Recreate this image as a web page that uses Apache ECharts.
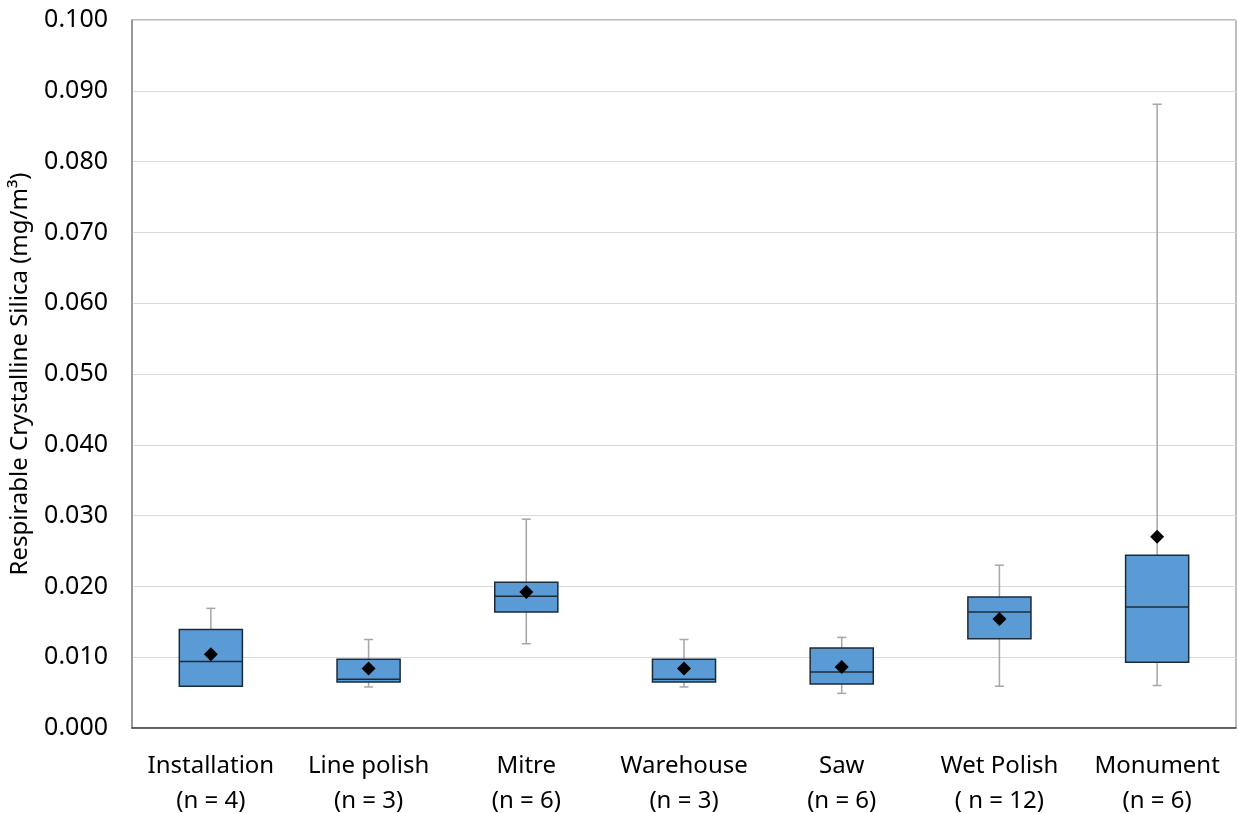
<!DOCTYPE html>
<html>
<head>
<meta charset="utf-8">
<script src="https://cdn.jsdelivr.net/npm/echarts@6/dist/echarts.min.js"></script>
<style>
html,body{margin:0;padding:0;background:#fff;}
#chart{width:1238px;height:813px;}
</style>
</head>
<body>
<div id="chart"></div>
<script>
const categories = ['Installation\n(n = 4)', 'Line polish\n(n = 3)', 'Mitre\n(n = 6)', 'Warehouse\n(n = 3)', 'Saw\n(n = 6)', 'Wet Polish\n( n = 12)', 'Monument\n(n = 6)'];
const minVals    = [0.0059, 0.0058, 0.0119, 0.0058, 0.0049, 0.0059, 0.0060];
const q1Vals     = [0.0059, 0.0065, 0.0164, 0.0065, 0.0062, 0.0126, 0.0093];
const medianVals = [0.0094, 0.0069, 0.0186, 0.0069, 0.0079, 0.0164, 0.0171];
const q3Vals     = [0.0139, 0.0097, 0.0206, 0.0097, 0.0113, 0.0185, 0.0244];
const maxVals    = [0.0169, 0.0125, 0.0295, 0.0125, 0.0128, 0.0230, 0.0881];
const meanVals   = [0.0104, 0.0084, 0.0192, 0.0084, 0.0086, 0.0154, 0.0270];
const yTicks = { min: 0, max: 0.1, interval: 0.01 };

const boxData = categories.map((c, i) => [i, minVals[i], q1Vals[i], medianVals[i], q3Vals[i], maxVals[i]]);
const meanData = categories.map((c, i) => [i, meanVals[i]]);

const chart = echarts.init(document.getElementById('chart'));
const FONT = 'Noto Sans';
const option = {
  animation: false,
  grid: { left: 132, right: 2, top: 20, bottom: 85, containLabel: false, outerBoundsMode: 'none',
          show: true, borderColor: '#7f7f7f', borderWidth: 1 },
  xAxis: {
    type: 'category',
    data: categories,
    axisLine: { lineStyle: { color: '#404040', width: 1.5 } },
    axisTick: { show: false },
    axisLabel: { fontFamily: FONT, fontSize: 24, color: '#000', margin: 21, lineHeight: 35, interval: 0 },
    splitLine: { show: false }
  },
  yAxis: {
    type: 'value',
    min: yTicks.min, max: yTicks.max, interval: yTicks.interval,
    name: 'Respirable Crystalline Silica (mg/m³)',
    nameLocation: 'middle',
    nameGap: 100,
    nameTextStyle: { fontFamily: FONT, fontSize: 24, color: '#000' },
    axisLine: { show: true, lineStyle: { color: '#8c8c8c', width: 1.5 } },
    axisTick: { show: false },
    axisLabel: { fontFamily: FONT, fontSize: 25, color: '#000', margin: 24, formatter: v => v.toFixed(3) },
    splitLine: { lineStyle: { color: '#d9d9d9', width: 1 } }
  },
  series: [
    {
      type: 'custom',
      data: boxData,
      encode: { x: 0, y: [1, 2, 3, 4, 5] },
      z: 2,
      renderItem: function (params, api) {
        const idx = api.value(0);
        const pMin = api.coord([idx, api.value(1)]);
        const pQ1 = api.coord([idx, api.value(2)]);
        const pMed = api.coord([idx, api.value(3)]);
        const pQ3 = api.coord([idx, api.value(4)]);
        const pMax = api.coord([idx, api.value(5)]);
        const band = api.size([1, 0])[0];
        const bw = band * 0.4;
        const cap = 9;
        const x = pMin[0];
        const wStyle = { stroke: '#a6a6a6', lineWidth: 1.5 };
        const bStyle = { stroke: '#1c2b3a', lineWidth: 1.5 };
        return {
          type: 'group',
          children: [
            { type: 'line', shape: { x1: x, y1: pMax[1], x2: x, y2: pQ3[1] }, style: wStyle },
            { type: 'line', shape: { x1: x, y1: pMin[1], x2: x, y2: pQ1[1] }, style: wStyle },
            { type: 'line', shape: { x1: x - cap / 2, y1: pMax[1], x2: x + cap / 2, y2: pMax[1] }, style: wStyle },
            { type: 'line', shape: { x1: x - cap / 2, y1: pMin[1], x2: x + cap / 2, y2: pMin[1] }, style: wStyle },
            { type: 'rect', shape: { x: x - bw / 2, y: pQ3[1], width: bw, height: pQ1[1] - pQ3[1] },
              style: { fill: '#5b9bd5', stroke: '#1c2b3a', lineWidth: 1.5 } },
            { type: 'line', shape: { x1: x - bw / 2, y1: pMed[1], x2: x + bw / 2, y2: pMed[1] }, style: bStyle }
          ]
        };
      }
    },
    {
      type: 'scatter',
      data: meanData,
      symbol: 'diamond',
      symbolSize: [14, 14],
      itemStyle: { color: '#000', opacity: 1 },
      z: 5
    }
  ]
};
chart.setOption(option);
</script>
</body>
</html>
